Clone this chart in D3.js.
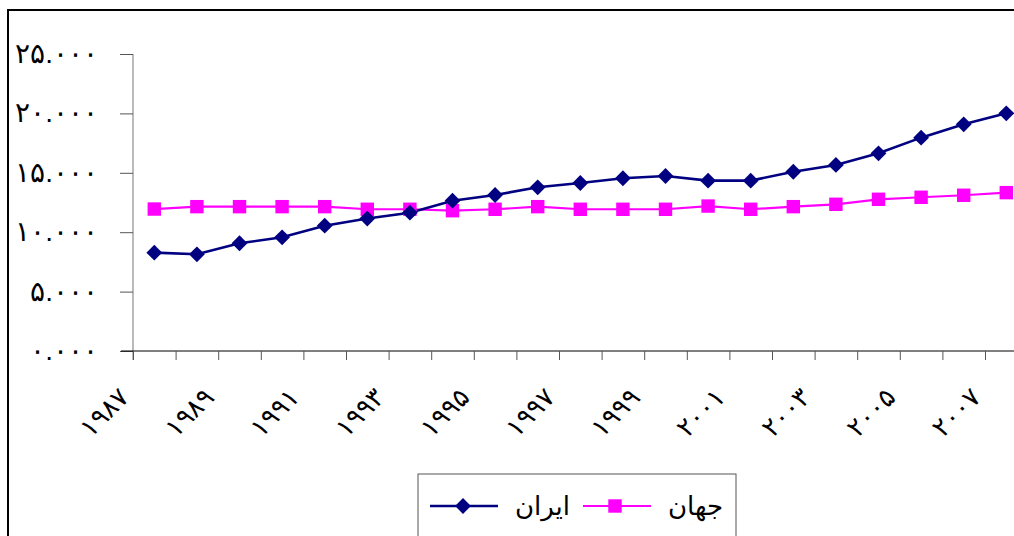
<!DOCTYPE html>
<html>
<head>
<meta charset="utf-8">
<script src="https://cdn.jsdelivr.net/npm/d3@7"></script>
<style>
  body { margin: 0; background: #fff; }
  svg { display: block; font-family: "DejaVu Sans", sans-serif; }
</style>
</head>
<body>
<svg></svg>
<script>
// data
const years = d3.range(1987, 2008);
const iran = [8280, 8140, 9070, 9570, 10550, 11150, 11640, 12650, 13130, 13780, 14140,
              14540, 14730, 14340, 14340, 15090, 15660, 16640, 17960, 19080, 20010];
const world = [11950, 12150, 12150, 12150, 12150, 11930, 11930, 11810, 11930, 12150, 11930,
               11930, 11930, 12200, 11930, 12150, 12350, 12770, 12940, 13110, 13330];
const yTicks = [0, 5000, 10000, 15000, 20000, 25000];
const labelYears = years.filter((d, i) => i % 2 === 0);
const seriesNames = ["ایران", "جهان"];

// persian digits
const fa = d3.formatLocale({
  decimal: ".", thousands: ",", grouping: [3], currency: ["", ""],
  numerals: ["۰", "۱", "۲", "۳", "۴", "۵", "۶", "۷", "۸", "۹"]
});
const fmtY = v => fa.format(".3f")(v / 1000);
const fmtYear = fa.format("d");

const W = 1014, H = 536;
const svg = d3.select("svg").attr("width", W).attr("height", H);

// outer frame (chart is cropped on right & bottom)
svg.append("rect")
  .attr("x", 8).attr("y", 10)
  .attr("width", 1100).attr("height", 600)
  .attr("fill", "none").attr("stroke", "#000").attr("stroke-width", 2);

let x0 = 133, step = 42.6, y0 = 351, yTop = 54;

const x = d3.scaleBand().domain(years).range([x0, x0 + step * years.length]).padding(0);
const xEdge = d3.scaleLinear().domain([0, years.length]).range([x0, x0 + step * years.length]);
const y = d3.scaleLinear().domain([0, 25000]).range([y0, yTop]);
const cx = d => x(d) + x.bandwidth() / 2;

// y axis
const yAxis = svg.append("g")
  .attr("transform", `translate(${x0},0)`)
  .call(d3.axisLeft(y).tickValues(yTicks).tickSize(13).tickPadding(22).tickFormat(fmtY));
yAxis.select(".domain").attr("stroke", "#777").attr("d", `M-0,${yTop}V${y0 + 9}`);
yAxis.selectAll(".tick line").attr("stroke", "#555");
yAxis.selectAll(".tick text")
  .attr("font-size", 28).attr("fill", "#000").attr("dy", "0.3em");

// x axis (ticks between categories)
const xAxis = svg.append("g")
  .attr("transform", `translate(0,${y0})`)
  .call(d3.axisBottom(xEdge).ticks(years.length).tickSize(9).tickFormat(""));
xAxis.select(".domain").attr("stroke", "#000").attr("d", `M${x0 - 12},0H${W}`);
xAxis.selectAll(".tick line").attr("stroke", "#555");

// rotated year labels
svg.append("g").selectAll("text")
  .data(labelYears)
  .join("text")
  .attr("transform", d => `translate(${cx(d) - 24},${y0 + 48}) rotate(-45)`)
  .attr("text-anchor", "end")
  .attr("font-size", 26)
  .text(d => fmtYear(d));

// lines
const line = d3.line().x((d, i) => cx(years[i])).y(d => y(d));
svg.append("path").datum(world)
  .attr("d", line).attr("fill", "none").attr("stroke", "#ff00ff").attr("stroke-width", 2.2);
svg.append("path").datum(iran)
  .attr("d", line).attr("fill", "none").attr("stroke", "#000080").attr("stroke-width", 2.6);

const diamond = d3.symbol().type(d3.symbolSquare).size(125);
const square = d3.symbol().type(d3.symbolSquare).size(180);

svg.append("g").selectAll("path")
  .data(world)
  .join("path")
  .attr("transform", (d, i) => `translate(${cx(years[i])},${y(d)})`)
  .attr("d", square).attr("fill", "#ff00ff");

svg.append("g").selectAll("path")
  .data(iran)
  .join("path")
  .attr("transform", (d, i) => `translate(${cx(years[i])},${y(d)}) rotate(45)`)
  .attr("d", diamond).attr("fill", "#000080");

// legend
const lg = svg.append("g");
lg.append("rect")
  .attr("x", 418).attr("y", 474).attr("width", 318).attr("height", 100)
  .attr("fill", "#fff").attr("stroke", "#555").attr("stroke-width", 1);
const ly = 506;
lg.append("line").attr("x1", 430).attr("x2", 498).attr("y1", ly).attr("y2", ly)
  .attr("stroke", "#000080").attr("stroke-width", 2.6);
lg.append("path").attr("transform", `translate(463,${ly}) rotate(45)`)
  .attr("d", diamond).attr("fill", "#000080");
lg.append("text").attr("x", 570).attr("y", ly).attr("dy", "0.35em")
  .attr("text-anchor", "end").attr("font-size", 26).text(seriesNames[0]);
lg.append("line").attr("x1", 583).attr("x2", 651).attr("y1", ly).attr("y2", ly)
  .attr("stroke", "#ff00ff").attr("stroke-width", 2.2);
lg.append("path").attr("transform", `translate(615,${ly})`)
  .attr("d", square).attr("fill", "#ff00ff");
lg.append("text").attr("x", 723).attr("y", ly).attr("dy", "0.35em")
  .attr("text-anchor", "end").attr("font-size", 26).text(seriesNames[1]);
</script>
</body>
</html>
